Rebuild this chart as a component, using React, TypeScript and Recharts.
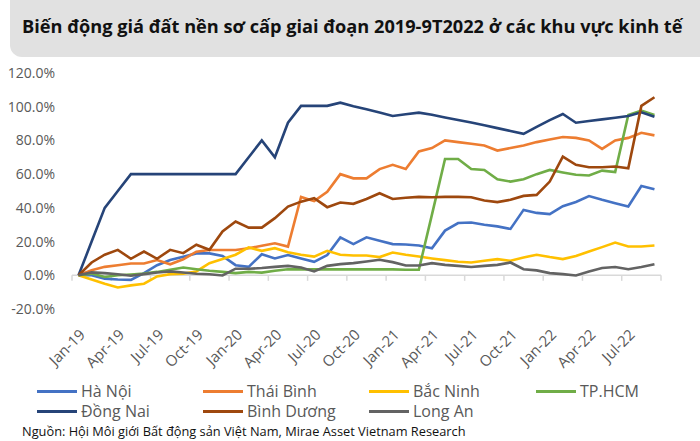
import { LineChart, Line, XAxis, YAxis, ReferenceLine } from 'recharts'

const months = [
  'Jan-19', 'Feb-19', 'Mar-19', 'Apr-19', 'May-19', 'Jun-19', 'Jul-19', 'Aug-19', 'Sep-19', 'Oct-19', 'Nov-19', 'Dec-19',
  'Jan-20', 'Feb-20', 'Mar-20', 'Apr-20', 'May-20', 'Jun-20', 'Jul-20', 'Aug-20', 'Sep-20', 'Oct-20', 'Nov-20', 'Dec-20',
  'Jan-21', 'Feb-21', 'Mar-21', 'Apr-21', 'May-21', 'Jun-21', 'Jul-21', 'Aug-21', 'Sep-21', 'Oct-21', 'Nov-21', 'Dec-21',
  'Jan-22', 'Feb-22', 'Mar-22', 'Apr-22', 'May-22', 'Jun-22', 'Jul-22', 'Aug-22', 'Sep-22',
]

// quarterly labels (index into months) and category boundaries for tick marks
const labelTicks = [0, 3, 6, 9, 12, 15, 18, 21, 24, 27, 30, 33, 36, 39, 42]
const boundaryTicks = [-0.5, 2.5, 5.5, 8.5, 11.5, 14.5, 17.5, 20.5, 23.5, 26.5, 29.5, 32.5, 35.5, 38.5, 41.5, 44.5]
const yTicks = [-20, 0, 20, 40, 60, 80, 100, 120]

// % change vs Jan-19
const haNoi = [
  0, 0, -2, -2.5, -2.7, 1.3, 6, 9, 11, 13, 13, 11.5,
  6, 5, 12.5, 10, 12, 10, 8, 12, 22.5, 18.5, 22.5, 20.5,
  18.5, 18.3, 17.7, 16, 26.5, 31, 31.3, 30, 29, 27.5, 38.8, 37,
  36.3, 41, 43.5, 47, 44.8, 42.8, 40.8, 53, 51,
]
const thaiBinh = [
  0, 3, 5, 6, 7, 7, 9, 6.5, 9.5, 14, 15, 15,
  15, 16, 17.5, 19, 17, 46.5, 44, 49.5, 60, 57.5, 57.5, 63,
  65.5, 63, 73.5, 75.5, 80, 79, 78, 77, 74, 75.5, 77, 79,
  80.5, 82, 81.5, 80, 75, 80, 81.5, 84.5, 83,
]
const bacNinh = [
  0, -2.5, -5, -7.2, -6, -5, -0.7, 0.7, 1, 2.3, 7.2, 9.6,
  12.2, 16.5, 14.5, 16.1, 13.7, 12.2, 11.1, 14.5, 12.2, 11.7, 11.7, 10.8,
  13.5, 12.2, 11.1, 10, 9, 8, 7.6, 8.6, 9.6, 8.6, 10.6, 12.2,
  10.8, 9.6, 11.4, 14.1, 16.7, 19.4, 17.1, 17.1, 17.7,
]
const tpHcm = [
  0, 1, -1, 0, 0.5, 1, 2, 3.3, 4.6, 3.6, 2.7, 2,
  1.3, 2, 1.6, 2.7, 3.6, 3.5, 3.5, 3.5, 3.5, 3.5, 3.5, 3.5,
  3.5, 3.3, 3.3, 36, 69, 69, 63, 62.5, 57, 55.6, 57, 60,
  62.5, 61, 59.6, 59.2, 62.1, 61.2, 95.1, 97.7, 95.1,
]
const dongNai = [
  0, 20, 40, 50, 60, 60, 60, 60, 60, 60, 60, 60,
  60, 70, 80, 70, 90.5, 100.5, 100.5, 100.5, 102.4, 100.3, 98.5, 96.5,
  94.5, 95.5, 96.5, 95.2, 93.6, 92.1, 90.6, 89, 87.3, 85.6, 83.9, 88,
  92, 95.7, 90.5, 91.5, 92.5, 93.5, 94.5, 96.7, 94,
]
const binhDuong = [
  0, 7.6, 12.2, 15.1, 9.8, 14.1, 9.8, 15.1, 13.1, 18.1, 15.1, 26,
  31.9, 28.3, 28.3, 33.9, 40.8, 43.7, 45.7, 40.4, 43.2, 42.4, 45.3, 48.7,
  45.3, 46, 46.5, 46.3, 46.5, 46.5, 46.3, 44.4, 43.4, 44.8, 47.1, 47.7,
  55.6, 70.4, 65.5, 64.1, 64.1, 64.5, 63.5, 100.5, 105.6,
]
const longAn = [
  0, 1.7, 1.3, 0.6, -0.3, 0.7, 1.7, 2.3, 1.7, 0.9, 0.6, -0.1,
  3.9, 3.9, 4.3, 5, 5.6, 4.6, 2.3, 5.6, 6.6, 7.2, 8.2, 9.2,
  7.8, 5.8, 5.8, 7.2, 6.2, 5.6, 4.9, 5.6, 6.2, 7.6, 3.6, 2.9,
  1.3, 0.7, -0.1, 2.3, 4.3, 4.9, 3.6, 4.9, 6.6,
]

const series = [
  { key: 'haNoi', name: 'Hà Nội', color: '#4472C4', values: haNoi },
  { key: 'thaiBinh', name: 'Thái Bình', color: '#ED7D31', values: thaiBinh },
  { key: 'bacNinh', name: 'Bắc Ninh', color: '#FFC000', values: bacNinh },
  { key: 'tpHcm', name: 'TP.HCM', color: '#70AD47', values: tpHcm },
  { key: 'dongNai', name: 'Đồng Nai', color: '#264478', values: dongNai },
  { key: 'binhDuong', name: 'Bình Dương', color: '#9E480E', values: binhDuong },
  { key: 'longAn', name: 'Long An', color: '#636363', values: longAn },
]

const data = months.map((m, i) => {
  const row: any = { i, month: m }
  series.forEach(s => { row[s.key] = s.values[i] })
  return row
})

const FONT = '"Open Sans", sans-serif'
const AXIS_GRAY = '#d9d9d9'

const MonthTick = ({ x, y, payload }: any) => {
  const ax = x
  const ay = y + 11
  return (
    <text
      x={ax}
      y={ay}
      transform={`rotate(-45 ${ax} ${ay})`}
      textAnchor="end"
      dy="0.72em"
      fill="#595959"
      fontSize={15}
      fontFamily={FONT}
    >
      {months[payload.value]}
    </text>
  )
}

export default function App() {
  return (
    <div style={{
      position: 'absolute', left: 0, top: 0, width: 700, height: 441,
      overflow: 'hidden', background: '#fff', fontFamily: FONT,
    }}>
      {/* title box */}
      <div style={{
        position: 'absolute', left: 10, top: -14, width: 720, height: 71,
        background: '#e1e1e1', borderRadius: 12,
      }} />
      <div style={{
        position: 'absolute', left: 22, top: 13, fontSize: 18.2, fontWeight: 700,
        color: '#111', whiteSpace: 'nowrap', lineHeight: '26px',
      }}>
        Biến động giá đất nền sơ cấp giai đoạn 2019-9T2022 ở các khu vực kinh tế
      </div>

      <div style={{ position: 'absolute', left: 0, top: 0 }}>
        <LineChart width={700} height={380} data={data} margin={{ top: 73, right: 39, bottom: 0, left: 0 }}>
          <YAxis
            domain={[-20, 120]}
            ticks={yTicks}
            tickFormatter={(v: number) => `${v.toFixed(1)}%`}
            axisLine={false}
            tickLine={false}
            width={72}
            tickMargin={11}
            tick={{ fill: '#595959', fontSize: 14, fontFamily: FONT }}
          />
          <XAxis
            dataKey="i"
            type="number"
            domain={[-0.5, 44.5]}
            ticks={labelTicks}
            interval={0}
            axisLine={false}
            tickLine={false}
            height={71}
            tick={<MonthTick />}
          />
          <ReferenceLine y={0} stroke={AXIS_GRAY} strokeWidth={1.5} />
          {boundaryTicks.map(b => (
            <ReferenceLine
              key={b}
              segment={[{ x: b, y: 0 }, { x: b, y: -3.3 }]}
              stroke={AXIS_GRAY}
              strokeWidth={1.5}
            />
          ))}
          {series.map(s => (
            <Line
              key={s.key}
              dataKey={s.key}
              name={s.name}
              stroke={s.color}
              strokeWidth={2.6}
              dot={false}
              activeDot={false}
              isAnimationActive={false}
            />
          ))}
        </LineChart>
      </div>

      {/* legend */}
      <div style={{
        position: 'absolute', left: 37, top: 381, width: 670,
        display: 'grid', gridTemplateColumns: '166px 166px 167px 166px', rowGap: 0,
      }}>
        {series.map(s => (
          <div key={s.key} style={{ display: 'flex', alignItems: 'center', height: 20 }}>
            <span style={{ width: 40, height: 3, background: s.color, marginRight: 4 }} />
            <span style={{ fontSize: 16, color: '#595959', lineHeight: '20px' }}>{s.name}</span>
          </div>
        ))}
      </div>

      <div style={{
        position: 'absolute', left: 22, top: 422, fontSize: 12.8, color: '#111',
        whiteSpace: 'nowrap', lineHeight: '18px',
      }}>
        Nguồn: Hội Môi giới Bất động sản Việt Nam, Mirae Asset Vietnam Research
      </div>
    </div>
  )
}
